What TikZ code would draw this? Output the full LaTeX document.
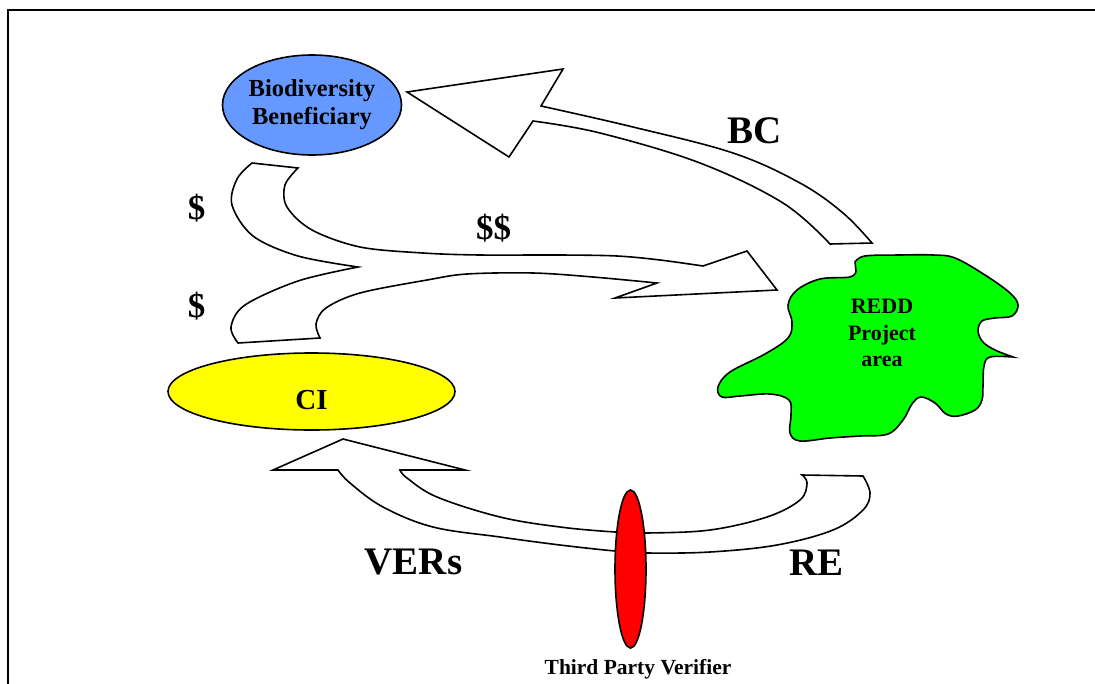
\documentclass[tikz,border=0pt]{standalone}
\usepackage{fontspec}
\setmainfont{Liberation Serif}
\usetikzlibrary{shapes.geometric}
\definecolor{bioblue}{HTML}{6699FF}
\definecolor{ciyellow}{HTML}{FFFF00}
\definecolor{reddgreen}{HTML}{00FF00}
\definecolor{vred}{HTML}{FF0000}
\tikzset{
  outl/.style={draw=black, line width=1.6pt, line join=miter},
  blockarrow/.style={outl, fill=white},
  oval/.style={outl, ellipse, inner sep=0pt},
  biglbl/.style={font=\bfseries\fontsize{39}{44}\selectfont, inner sep=0pt, anchor=base},
  dollarlbl/.style={font=\bfseries\fontsize{35}{40}\selectfont, inner sep=0pt, anchor=base},
}
\begin{document}
\begin{tikzpicture}[x=1pt, y=-1pt]
\useasboundingbox (0,0) rectangle (1095,683);
% frame
\draw[line width=1.8pt] (8,690) -- (8,10) -- (1100,10);

% BC arrow (REDD -> Biodiversity)
\draw[blockarrow] (407,92) -- (563,69) -- (541,106)
  -- plot[smooth, tension=0.6] coordinates {(541,106) (633,127) (733,153) (800,183) (843,213) (872,243)}
  -- (830,244)
  -- plot[smooth, tension=0.6] coordinates {(830,244) (783,203) (700,163) (600,133) (533,121)}
  -- (509,157) -- cycle;

% $ / $$ arrow (Biodiversity and CI -> REDD)
\draw[blockarrow] (252,163) -- (298,168)
  -- plot[smooth, tension=0.55] coordinates {(298,168) (285,185) (287,207) (312,230) (360,247) (423,253) (480,255) (560,255) (617,256) (660,260) (703,266)}
  -- (747,251) -- (777,290) -- (615,298) -- (657,283)
  -- plot[smooth, tension=0.55] coordinates {(657,283) (593,277) (533,273) (467,274) (427,280) (360,293) (326,308) (316,324) (320,338)}
  -- (238,343)
  -- plot[smooth, tension=0.55] coordinates {(238,343) (231,327) (245,305) (298,281) (358,267)}
  -- plot[smooth, tension=0.55] coordinates {(358,267) (298,256) (253,236) (232,205) (237,179) (252,163)}
  -- cycle;

% VERs / RE arrow (REDD -> CI)
\draw[blockarrow] (343,439) -- (465,470) -- (400,470)
  -- plot[smooth, tension=0.6] coordinates {(400,470) (407,478) (437,497) (500,517) (560,527) (615,532) (647,533) (710,530) (767,517) (800,500) (807,483) (802,475)}
  -- (863,476)
  -- plot[smooth, tension=0.6] coordinates {(863,476) (870,493) (863,510) (833,530) (777,545) (710,552) (647,553) (615,551) (560,545) (500,537) (433,527) (383,507) (350,483) (338,470)}
  -- (273,470) -- cycle;

% nodes
\node[oval, fill=bioblue, minimum width=160pt, minimum height=100pt, align=center,
  font=\bfseries\fontsize{24.5}{28}\selectfont] (bio) at (312,105) {Biodiversity\\Beneficiary};
\node[oval, fill=ciyellow, minimum width=287pt, minimum height=77pt] (ci) at (311.5,391.5) {};
\node[font=\bfseries\fontsize{29}{34}\selectfont, inner sep=0pt, anchor=base] (citext) at (311.5,409) {CI};

% REDD project area blob
\filldraw[outl, fill=reddgreen]
  plot[smooth, tension=0.6] coordinates {(855,262) (865,256) (900,255) (933,255) (955,258) (985,275) (1010,293) (1018,305) (1012,316) (995,318) (982,321) (978,331) (983,342) (995,350) (1013,357)}
  -- plot[smooth, tension=0.6] coordinates {(1013,357) (990,357) (984,366) (983,385) (982,400) (975,410) (958,416) (946,414) (935,403) (921,397) (912,404) (903,420) (888,434) (860,436) (830,438) (800,441) (790,433) (791,415) (789,400) (770,394) (740,396) (722,397) (718,387) (730,372) (765,354) (788,338) (792,322) (788,305) (797,290) (820,279) (850,277) (856,271)}
  -- cycle;
\node[font=\bfseries\fontsize{22}{26.5}\selectfont, align=center, inner sep=0pt] (redd) at (882,333) {REDD\\Project\\area};

% third party verifier
\node[oval, fill=vred, minimum width=31pt, minimum height=158pt] (tpv) at (630.5,569) {};
\node[font=\bfseries\fontsize{21.5}{25}\selectfont, inner sep=0pt, anchor=base] (tpvlbl) at (638,674) {Third Party Verifier};

% labels
\node[biglbl] (bc) at (755,143) {BC};
\node[biglbl] (vers) at (413.5,574) {VERs};
\node[biglbl] (re) at (816.5,575) {RE};
\node[dollarlbl] (d1) at (196.5,219) {\$};
\node[dollarlbl] (d2) at (196.5,317) {\$};
\node[dollarlbl] (d3) at (493.5,239) {\$\$};
\end{tikzpicture}
\end{document}
